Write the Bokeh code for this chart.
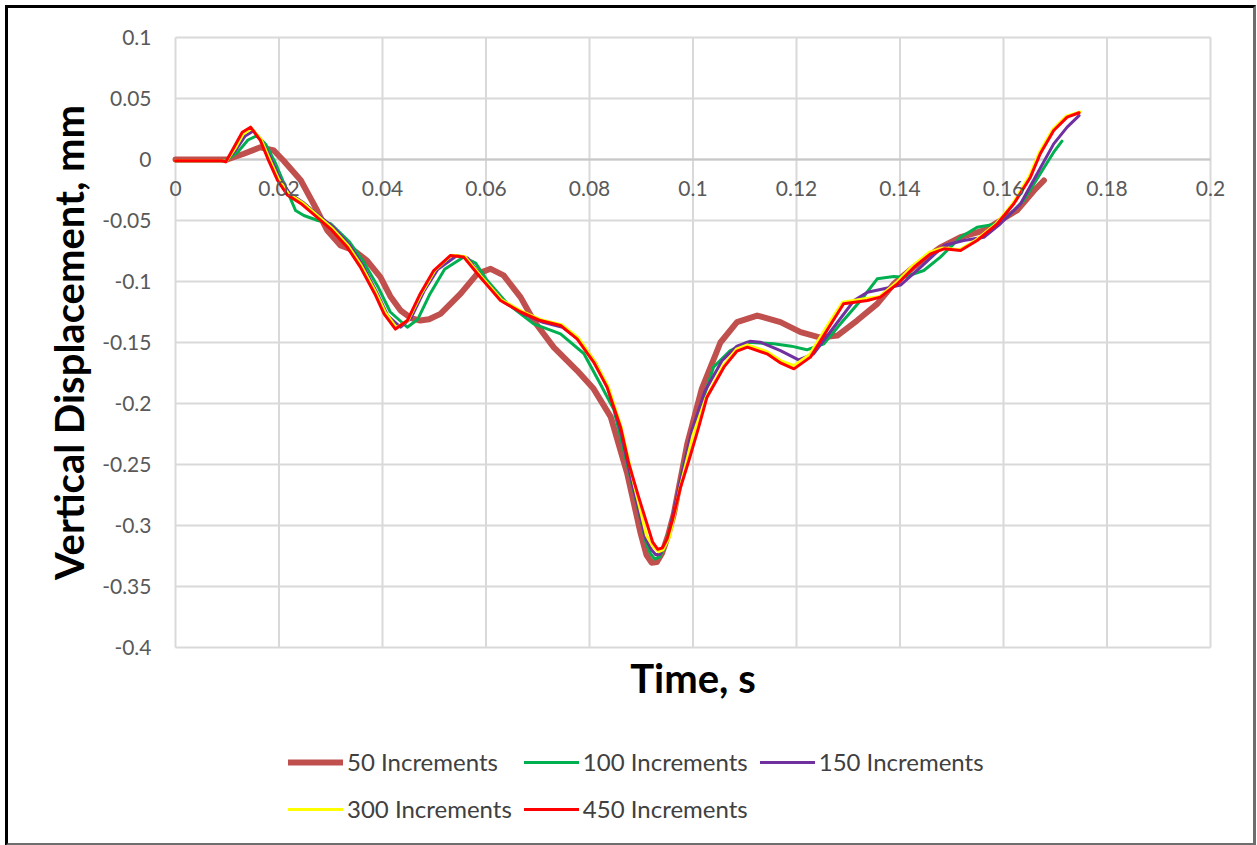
import math
from bokeh.plotting import figure
from bokeh.models import (Range1d, Legend, LegendItem, Label,
                          LabelSet, ColumnDataSource)
from bokeh.core.properties import value
from bokeh.embed import file_html
from bokeh.resources import INLINE

# ---------------- data ----------------
series_names = ["50 Increments", "100 Increments", "150 Increments",
                "300 Increments", "450 Increments"]

t_50 = [0, 0.005, 0.0100, 0.0132, 0.0164, 0.0190, 0.0209, 0.0242, 0.0258, 0.0274,
        0.0293, 0.0319, 0.0345, 0.0370, 0.0396, 0.0415, 0.0435, 0.0455, 0.0473, 0.0490,
        0.0512, 0.0551, 0.0583, 0.0609, 0.0634, 0.0667, 0.0692, 0.0731, 0.0776, 0.0808,
        0.0841, 0.0873, 0.0899, 0.0910, 0.0920, 0.0930, 0.0940, 0.0952, 0.0963, 0.0989,
        0.1017, 0.1053, 0.1085,
        0.1124, 0.1169, 0.1208, 0.1246, 0.1279, 0.1317, 0.1356, 0.1388, 0.1427, 0.1478,
        0.1517, 0.1562, 0.1594, 0.1626, 0.1659, 0.1678]
y_50 = [0.000, 0.000, 0.000, 0.0047, 0.0100, 0.0074, -0.0010, -0.0170, -0.0295, -0.0420,
        -0.0580, -0.0705, -0.0746, -0.0828, -0.0965, -0.1120, -0.1238, -0.1300, -0.1320, -0.1310,
        -0.1265, -0.1100, -0.0937, -0.0896, -0.0950, -0.1130, -0.1320, -0.1540, -0.1730, -0.1880,
        -0.2110, -0.2576, -0.3068, -0.3240, -0.3305, -0.3300, -0.3230, -0.3080, -0.2904, -0.2330,
        -0.1880, -0.1500, -0.1333,
        -0.1279, -0.1333, -0.1415, -0.1460, -0.1443, -0.1320, -0.1183, -0.1019, -0.0880, -0.0720,
        -0.0637, -0.0582, -0.0500, -0.0418, -0.0254, -0.0172]

t_100 = [0, 0.0050, 0.0090, 0.0100, 0.0120, 0.0140, 0.0158, 0.0175, 0.0192, 0.0210,
         0.0232, 0.0248, 0.0275, 0.0300, 0.0335, 0.0362, 0.0392, 0.0415, 0.0448, 0.0468,
         0.0492, 0.0520, 0.0557, 0.0580, 0.0602, 0.0641, 0.0692, 0.0744, 0.0789, 0.0821,
         0.0847, 0.0873, 0.0899, 0.0910, 0.0918, 0.0926, 0.0935, 0.0944, 0.0963, 0.0982,
         0.1008, 0.1040,
         0.1072, 0.1105, 0.1156, 0.1190, 0.1220, 0.1253, 0.1285, 0.1324, 0.1356, 0.1388,
         0.1407, 0.1446, 0.1478, 0.1517, 0.1549, 0.1581, 0.1607, 0.1639, 0.1671, 0.1697,
         0.1713]
y_100 = [-0.001, -0.001, -0.001, 0.000, 0.006, 0.016, 0.0197, 0.012, -0.002, -0.020,
         -0.0418, -0.0459, -0.050, -0.0527, -0.067, -0.083, -0.105, -0.125, -0.1375, -0.131,
         -0.110, -0.090, -0.080, -0.085, -0.099, -0.118, -0.1347, -0.143, -0.159, -0.184,
         -0.205, -0.250, -0.295, -0.315, -0.323, -0.3275, -0.326, -0.319, -0.290, -0.250,
         -0.2112, -0.170,
         -0.1566, -0.1497, -0.151, -0.153, -0.156, -0.151, -0.1347, -0.1156, -0.0978, -0.0959,
         -0.0965, -0.091, -0.080, -0.0637, -0.0555, -0.0533, -0.0473, -0.0336, -0.0117, 0.006,
         0.015]

t_150 = [0, 0.0050, 0.0090, 0.0098, 0.0117, 0.0134, 0.0151, 0.0168, 0.0185, 0.0202,
         0.0221, 0.0246, 0.0271, 0.0304, 0.0336, 0.0362, 0.0390, 0.0410, 0.0435, 0.0455,
         0.0480, 0.0507, 0.0544, 0.0565, 0.0595, 0.0635, 0.0672, 0.0710, 0.0748, 0.0780,
         0.0812, 0.0836, 0.0860, 0.0884, 0.0908, 0.0920, 0.0928, 0.0936, 0.0944, 0.0952,
         0.0972, 0.0998, 0.1023,
         0.1056, 0.1085, 0.1110, 0.1130, 0.1169, 0.1204, 0.1233, 0.1272, 0.1311, 0.1337,
         0.1369, 0.1401, 0.1440, 0.1485, 0.1523, 0.1562, 0.1594, 0.1633, 0.1665, 0.1697,
         0.1723, 0.1746]
y_150 = [-0.001, -0.001, -0.001, -0.001, 0.008, 0.019, 0.0235, 0.014, 0.000, -0.016,
         -0.028, -0.035, -0.044, -0.055, -0.070, -0.087, -0.110, -0.128, -0.1375, -0.130,
         -0.108, -0.090, -0.0787, -0.081, -0.098, -0.117, -0.1265, -0.1335, -0.1375, -0.148,
         -0.167, -0.188, -0.222, -0.268, -0.310, -0.320, -0.324, -0.3235, -0.318, -0.310,
         -0.270, -0.222, -0.190,
         -0.165, -0.153, -0.149, -0.1497, -0.1566, -0.1642, -0.1593, -0.1375, -0.1156, -0.1088,
         -0.106, -0.103, -0.0883, -0.0705, -0.0664, -0.0637, -0.0527, -0.0363, -0.0117, 0.0128,
         0.0265, 0.0360]

t_300 = [0, 0.0050, 0.0090, 0.0098, 0.0115, 0.0131, 0.0147, 0.0166, 0.0182, 0.0199,
         0.0218, 0.0244, 0.0269, 0.0302, 0.0334, 0.0359, 0.0387, 0.0405, 0.0427, 0.0450,
         0.0475, 0.0501, 0.0533, 0.0559, 0.0591, 0.0630, 0.0669, 0.0707, 0.0746, 0.0778,
         0.0810, 0.0836, 0.0861, 0.0886, 0.0910, 0.0922, 0.0933, 0.0942, 0.0955, 0.0974,
         0.1000, 0.1025,
         0.1058, 0.1084, 0.1105, 0.1143, 0.1170, 0.1195, 0.1225, 0.1257, 0.1289, 0.1335,
         0.1360, 0.1393, 0.1425, 0.1457, 0.1483, 0.1515, 0.1547, 0.1586, 0.1618, 0.1650,
         0.1669, 0.1695, 0.1721, 0.1748]
y_300 = [-0.001, -0.001, -0.001, -0.0015, 0.009, 0.021, 0.0255, 0.016, 0.000, -0.016,
         -0.028, -0.035, -0.044, -0.056, -0.071, -0.087, -0.109, -0.125, -0.138, -0.1315,
         -0.110, -0.091, -0.0785, -0.0795, -0.096, -0.115, -0.1245, -0.1315, -0.1355, -0.146,
         -0.1655, -0.186, -0.219, -0.266, -0.308, -0.317, -0.3215, -0.320, -0.309, -0.271,
         -0.226, -0.1955,
         -0.169, -0.1555, -0.152, -0.1575, -0.165, -0.169, -0.160, -0.138, -0.117, -0.114,
         -0.1125, -0.101, -0.087, -0.076, -0.0725, -0.074, -0.066, -0.0525, -0.036, -0.0135,
         0.0055, 0.0245, 0.0355, 0.0390]

t_450 = [0, 0.0050, 0.0090, 0.0097, 0.0113, 0.0129, 0.0145, 0.0164, 0.0180, 0.0197,
         0.0216, 0.0242, 0.0267, 0.0300, 0.0332, 0.0357, 0.0385, 0.0403, 0.0425, 0.0448,
         0.0473, 0.0499, 0.0531, 0.0557, 0.0589, 0.0628, 0.0667, 0.0705, 0.0744, 0.0776,
         0.0808, 0.0834, 0.0860, 0.0876, 0.0895, 0.0915, 0.0922, 0.0932, 0.0941, 0.0950,
         0.0960, 0.0976, 0.0992, 0.1011, 0.1027, 0.1060, 0.1085, 0.1105, 0.1143, 0.1170,
         0.1195, 0.1227, 0.1259, 0.1291, 0.1337, 0.1362, 0.1395, 0.1427, 0.1459, 0.1485,
         0.1517, 0.1549, 0.1588, 0.1620, 0.1652, 0.1671, 0.1697, 0.1723, 0.1746]
y_450 = [-0.001, -0.001, -0.001, -0.002, 0.010, 0.0224, 0.0265, 0.0156, -0.001, -0.017,
         -0.029, -0.036, -0.045, -0.057, -0.072, -0.088, -0.110, -0.1265, -0.139, -0.132,
         -0.110, -0.091, -0.0787, -0.080, -0.0965, -0.1156, -0.125, -0.132, -0.136, -0.147,
         -0.166, -0.1866, -0.2194, -0.2494, -0.2768, -0.304, -0.3137, -0.3195, -0.3183, -0.311,
         -0.296, -0.2686, -0.2467, -0.2194, -0.1948, -0.170, -0.157, -0.1538, -0.1593, -0.167,
         -0.1716, -0.162, -0.140, -0.1183, -0.1156, -0.1128, -0.1019, -0.0883, -0.0773, -0.0732,
         -0.0746, -0.0664, -0.0527, -0.0363, -0.0145, 0.0047, 0.0238, 0.0347, 0.0383]

x_ticks = [0, 0.02, 0.04, 0.06, 0.08, 0.1, 0.12, 0.14, 0.16, 0.18, 0.2]
x_tick_labels = ["0", "0.02", "0.04", "0.06", "0.08", "0.1", "0.12", "0.14", "0.16", "0.18", "0.2"]
y_ticks = [0.1, 0.05, 0, -0.05, -0.1, -0.15, -0.2, -0.25, -0.3, -0.35, -0.4]
y_tick_labels = ["0.1", "0.05", "0", "-0.05", "-0.1", "-0.15", "-0.2", "-0.25", "-0.3", "-0.35", "-0.4"]

x_title = "Time, s"
y_title = "Vertical Displacement, mm"

# ---------------- styles / geometry ----------------
series_t = [t_50, t_100, t_150, t_300, t_450]
series_y = [y_50, y_100, y_150, y_300, y_450]
colors = ["#C0504D", "#00B050", "#7030A0", "#FFFF00", "#FF0000"]
line_widths = [6, 3, 3, 3, 3]
FONT = "Lato"
GRID = "#d9d9d9"
TICK_COLOR = "#595959"

W, H = 1245, 835             # drawing area inside the outer border
PX_X, PX_Y = 5175.0, 1220.0  # pixels per data unit
LEFT_PAD, TOP_PAD = 167, 29  # pixels from drawing-area edge to the value area

x_lo, x_hi = min(x_ticks), max(x_ticks)
y_lo, y_hi = min(y_ticks), max(y_ticks)
x_start = x_lo - LEFT_PAD / PX_X
y_end = y_hi + TOP_PAD / PX_Y

p = figure(frame_width=W, frame_height=H,
           min_border_left=0, min_border_right=0, min_border_top=0, min_border_bottom=0,
           x_range=Range1d(x_start, x_start + W / PX_X),
           y_range=Range1d(y_end - H / PX_Y, y_end),
           x_axis_location=None, y_axis_location=None,
           output_backend="svg", toolbar_location=None,
           background_fill_color="white", border_fill_color="white",
           styles={"margin-left": "5px", "margin-top": "5px",
                   "border-left": "3px solid #000000", "border-top": "3px solid #000000",
                   "border-right": "3px solid #6e6e6e", "border-bottom": "3px solid #6e6e6e"})

p.outline_line_color = None
p.xgrid.visible = False
p.ygrid.visible = False

# grid over the value area
p.segment(x0=x_ticks, x1=x_ticks, y0=[y_lo] * len(x_ticks), y1=[y_hi] * len(x_ticks),
          line_color=GRID, line_width=2)
p.segment(x0=[x_lo] * len(y_ticks), x1=[x_hi] * len(y_ticks), y0=y_ticks, y1=y_ticks,
          line_color=GRID, line_width=2)
p.segment(x0=[x_lo], x1=[x_hi], y0=[0], y1=[0], line_color="#c8c8c8", line_width=2)

# tick labels
xl_src = ColumnDataSource(dict(x=x_ticks, y=[0] * len(x_ticks), text=x_tick_labels))
p.add_layout(LabelSet(x="x", y="y", text="text", source=xl_src,
                      text_align="center", text_baseline="top", y_offset=-21,
                      text_font=value(FONT), text_font_size="21px", text_color=TICK_COLOR))
yl_src = ColumnDataSource(dict(x=[x_lo] * len(y_ticks), y=y_ticks, text=y_tick_labels))
p.add_layout(LabelSet(x="x", y="y", text="text", source=yl_src,
                      text_align="right", text_baseline="middle", x_offset=-24,
                      text_font=value(FONT), text_font_size="21px", text_color=TICK_COLOR))

# axis titles
p.add_layout(Label(x=(x_lo + x_hi) / 2, y=y_lo, y_offset=-30, text=x_title,
                   text_align="center", text_baseline="middle",
                   text_font=FONT, text_font_style="bold", text_font_size="40px",
                   text_color="black"))
p.add_layout(Label(x=x_lo, y=(y_lo + y_hi) / 2, x_offset=-107, text=y_title,
                   angle=math.pi / 2, text_align="center", text_baseline="middle",
                   text_font=FONT, text_font_style="bold", text_font_size="40px",
                   text_color="black"))

renderers = []
for t, y, c, w in zip(series_t, series_y, colors, line_widths):
    r = p.line(t, y, line_color=c, line_width=w, line_join="round", line_cap="round")
    renderers.append(r)

legend = Legend(items=[LegendItem(label=n, renderers=[r]) for n, r in zip(series_names, renderers)],
                location=(280, 17), orientation="horizontal", ncols=3,
                glyph_width=55, glyph_height=20, label_standoff=4, label_width=164,
                label_height=35, spacing=12, padding=0, margin=0,
                label_text_font=FONT, label_text_font_size="24px", label_text_color="#404040",
                background_fill_alpha=0, border_line_color=None)
p.add_layout(legend)

open("out.html", "w").write(file_html(p, INLINE))
